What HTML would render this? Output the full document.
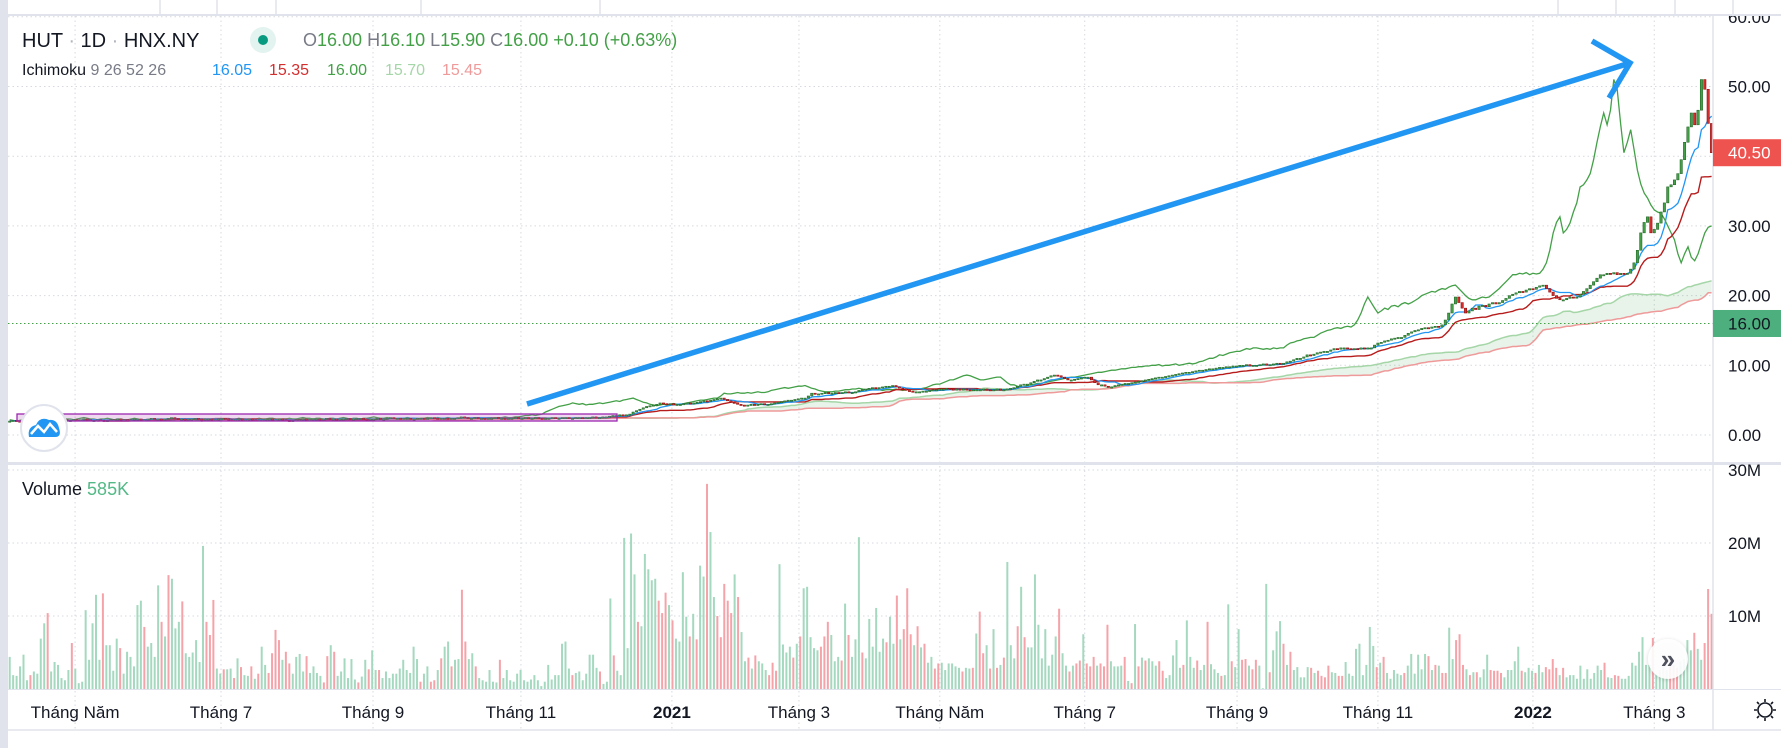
<!DOCTYPE html>
<html><head><meta charset="utf-8">
<style>
html,body{margin:0;padding:0;background:#fff;}
body{width:1781px;height:748px;overflow:hidden;font-family:"Liberation Sans",sans-serif;}
svg text{font-family:"Liberation Sans",sans-serif;}
</style></head>
<body>
<svg id="chart" width="1781" height="748" viewBox="0 0 1781 748" xmlns="http://www.w3.org/2000/svg">
  <defs>
    <clipPath id="pclip"><rect x="8" y="16" width="1705" height="447"/></clipPath>
    <clipPath id="vclip"><rect x="8" y="465" width="1705" height="225"/></clipPath>
    <clipPath id="aclip"><rect x="1713" y="16" width="68" height="714"/></clipPath>
    <filter id="sh" x="-50%" y="-50%" width="200%" height="200%"><feDropShadow dx="0" dy="1" stdDeviation="2" flood-color="#000" flood-opacity="0.18"/></filter>
  </defs>
  <rect x="0" y="0" width="1781" height="748" fill="#fff"/>
  <rect x="0" y="0" width="8" height="748" fill="#e0e3eb"/>
  <g id="toolbar"></g>
  <g id="grid"></g>
  <g id="price" clip-path="url(#pclip)"></g>
  <g id="vol" clip-path="url(#vclip)"></g>
  <g id="axes"></g>
  <g id="overlay"></g>
</svg>
<script>
// ---------- DATA ----------
const closes = [
2.0,2.1,2.0,1.9,2.0,2.1,2.1,2.0,2.0,2.1,2.2,2.1,2.1,2.0,2.1,2.2,2.2,2.1,2.1,2.2,
2.1,2.2,2.3,2.2,2.1,2.1,2.2,2.1,2.0,2.1,2.2,2.2,2.3,2.2,2.2,2.1,2.2,2.3,2.3,2.2,
2.2,2.3,2.4,2.3,2.3,2.2,2.3,2.4,2.5,2.4,2.3,2.3,2.2,2.3,2.3,2.4,2.3,2.2,2.3,2.3,
2.2,2.2,2.3,2.4,2.3,2.2,2.1,2.2,2.3,2.2,2.2,2.3,2.2,2.1,2.2,2.2,2.3,2.3,2.2,2.2,
2.3,2.2,2.1,2.0,2.1,2.2,2.2,2.3,2.2,2.2,2.3,2.3,2.2,2.3,2.4,2.3,2.3,2.2,2.3,2.3,
2.4,2.3,2.3,2.4,2.4,2.3,2.2,2.3,2.3,2.4,2.3,2.3,2.4,2.5,2.4,2.4,2.3,2.4,2.4,2.3,
2.3,2.4,2.4,2.3,2.4,2.5,2.4,2.3,2.4,2.4,2.3,2.4,2.4,2.5,2.6,2.5,2.4,2.4,2.5,2.4,
2.4,2.3,2.4,2.4,2.5,2.4,2.4,2.3,2.4,2.4,2.5,2.4,2.4,2.5,2.4,2.4,2.5,2.4,2.3,2.4,
2.4,2.5,2.4,2.4,2.5,2.5,2.4,2.4,2.5,2.5,2.4,2.5,2.5,2.6,2.5,2.5,2.6,2.6,2.7,2.8,
2.8,2.9,2.8,2.9,3.0,3.3,3.5,3.7,3.9,4.1,4.2,4.3,4.4,4.6,4.5,4.4,4.5,4.3,4.4,4.4,
4.5,4.6,4.5,4.6,4.7,4.8,4.9,4.8,5.0,5.1,5.2,5.3,5.1,4.9,4.7,4.6,4.4,4.3,4.2,4.3,
4.4,4.3,4.4,4.5,4.4,4.4,4.5,4.6,4.7,4.8,4.9,5.0,5.0,5.1,5.2,5.3,5.3,5.6,6.0,5.9,
5.9,6.0,6.1,6.0,6.0,6.1,6.0,6.1,6.2,6.1,6.1,6.2,6.4,6.5,6.6,6.7,6.8,6.7,6.8,6.9,
7.0,7.0,7.1,6.9,6.7,6.6,6.4,6.3,6.2,6.2,6.2,6.3,6.3,6.4,6.5,6.5,6.6,6.6,6.7,6.6,
6.5,6.6,6.5,6.6,6.5,6.4,6.5,6.5,6.5,6.6,6.5,6.4,6.5,6.6,6.5,6.5,6.6,6.7,6.8,7.0,
7.2,7.3,7.3,7.5,7.7,7.9,7.9,8.1,8.3,8.5,8.6,8.5,8.3,8.1,7.9,7.9,8.0,8.1,8.2,8.3,
8.3,7.9,7.5,7.2,7.2,7.0,6.9,6.9,7.1,7.2,7.3,7.4,7.4,7.5,7.6,7.7,7.8,7.9,8.0,8.1,
8.2,8.3,8.3,8.4,8.5,8.6,8.7,8.8,8.9,9.0,9.0,9.1,9.2,9.3,9.3,9.4,9.5,9.5,9.6,9.7,
9.7,9.8,9.8,9.9,9.9,10.0,10.0,10.1,9.9,10.0,10.0,10.1,10.2,10.0,10.1,10.2,10.3,10.2,10.3,10.5,
10.6,10.8,11.0,11.0,11.2,11.5,11.4,11.6,11.8,11.9,12.0,12.0,12.2,12.4,12.3,12.5,12.5,12.4,12.3,12.4,
12.3,12.5,12.4,12.5,12.5,12.9,13.2,13.3,13.5,13.6,13.8,13.9,14.0,14.0,14.3,14.6,14.8,15.0,15.1,15.3,
15.4,15.3,15.5,15.6,15.5,15.8,16.5,17.5,18.8,19.8,19.0,18.2,17.5,17.8,18.2,18.0,18.5,18.6,18.4,18.8,
19.0,18.8,19.0,19.3,19.6,20.0,20.2,20.4,20.6,20.5,20.8,21.0,20.9,21.2,21.4,21.5,21.0,20.5,20.0,19.6,
19.4,19.4,19.6,19.8,19.7,19.8,20.2,20.6,21.0,21.5,22.0,22.5,23.0,23.0,23.2,23.1,23.3,23.0,23.2,23.1,
23.2,23.8,24.7,26.5,29.0,30.5,31.3,29.0,29.5,30.4,32.0,33.3,35.6,35.9,36.6,37.5,39.5,42.0,44.2,46.2,
44.5,46.6,51.0,49.6,44.7,40.5,
42.0,43.8,41.0,38.0,36.0,34.7,34.0,33.0,32.3,32.0,31.8,31.0,30.0,29.0,28.0,26.0,24.7,26.0,27.0,25.5,
25.0,26.0,27.5,29.0,29.8,30.0
];
const visibleBars = 506;
const volumes = [
4.4,1.9,1.8,3.1,4.7,1.2,1.9,2.4,2.1,6.9,9.0,10.4,2.4,3.7,3.3,1.5,1.2,2.6,6.3,2.8,
0.8,1.0,10.8,4.0,9.0,12.9,4.0,13.1,6.0,6.0,2.5,6.9,5.6,2.1,5.1,4.4,3.1,11.5,12.1,8.5,
5.8,6.3,4.4,14.2,9.2,7.2,15.6,15.1,8.3,9.2,12.0,4.9,4.4,5.0,6.7,3.7,19.6,9.2,7.4,12.2,
2.8,2.1,2.7,2.7,2.8,1.5,4.2,3.0,1.9,1.8,3.1,1.4,2.1,5.8,3.3,2.2,4.9,8.1,6.7,4.0,
5.1,3.5,2.1,4.4,4.8,2.4,4.5,2.2,3.1,2.2,1.8,0.9,4.5,6.0,5.1,1.8,2.4,4.2,1.5,4.1,
1.3,0.9,1.7,4.0,2.7,5.3,2.6,2.6,1.5,2.4,1.5,2.1,2.1,2.8,4.0,2.6,2.2,5.8,4.1,1.0,
2.1,3.1,1.0,1.2,2.6,4.2,5.8,6.5,3.1,4.0,4.1,13.6,6.5,4.1,4.9,3.1,1.5,1.2,1.0,2.6,
1.0,0.9,4.0,1.5,2.6,1.2,1.0,2.1,2.6,1.2,1.0,1.3,1.9,1.2,0.4,1.0,3.3,1.3,1.9,
1.9,6.2,6.5,2.8,1.9,2.2,2.4,1.2,2.1,4.7,4.7,2.9,2.4,0.7,1.0,12.4,4.6,2.5,1.9,20.7,
5.6,21.3,15.7,9.2,8.6,18.5,16.4,14.9,15.1,12.1,10.4,13.2,11.5,9.4,6.9,6.5,16.0,9.9,7.2,10.3,
6.8,16.9,15.4,28.1,21.5,12.6,10.0,7.1,14.4,12.1,10.4,15.7,12.6,7.8,3.8,4.3,2.8,4.6,3.8,3.5,
2.6,1.9,3.6,2.5,17.1,6.1,5.0,5.8,4.3,6.2,7.2,13.8,14.0,7.1,5.6,5.3,5.8,7.2,9.2,7.4,
3.8,4.4,3.9,11.7,7.4,4.4,6.8,20.8,5.0,4.2,9.6,5.8,11.1,5.1,6.9,6.4,9.9,6.2,12.8,6.8,
8.2,13.8,7.5,6.0,8.6,5.7,6.2,3.6,4.4,2.8,3.5,3.6,2.6,3.5,3.5,3.1,2.9,2.4,2.9,2.8,
2.9,7.6,10.6,4.9,6.0,2.8,8.2,2.9,3.3,4.3,17.4,6.0,4.2,8.6,14.0,7.1,5.7,5.7,15.7,8.8,
4.2,8.2,3.2,4.7,7.2,11.0,4.9,3.2,2.4,3.2,3.5,3.9,7.5,3.5,3.1,4.4,3.2,3.5,3.1,8.8,
3.8,3.1,3.1,3.2,4.4,1.1,0.8,8.9,3.1,4.3,3.9,4.2,3.8,3.2,3.8,2.5,1.5,1.9,4.6,6.7,
2.9,3.3,9.4,4.4,2.9,3.9,
2.6,3.3,9.2,3.4,2.7,2.2,1.8,1.9,11.6,3.8,3.0,8.2,4.0,4.1,3.2,2.7,4.0,3.2,0.1,14.4,
2.3,5.3,7.9,9.3,6.2,3.3,5.1,2.6,3.0,1.6,1.6,3.0,2.9,2.2,2.5,1.8,1.6,3.2,2.3,2.2,
1.8,1.8,3.7,2.1,1.8,5.5,6.2,1.9,3.3,8.5,5.9,3.0,3.6,4.4,2.2,1.4,2.6,2.1,1.9,2.2,
3.2,4.8,2.1,4.7,2.7,4.8,4.5,2.6,3.3,3.2,2.2,2.2,8.4,4.1,6.7,7.5,3.3,2.7,1.9,2.3,
2.3,1.6,2.7,4.7,2.6,2.5,2.5,2.2,1.6,2.6,2.6,3.8,5.8,2.5,2.3,2.9,2.5,2.2,3.3,2.3,
3.0,2.7,4.1,2.9,1.9,2.9,1.6,1.9,1.9,1.4,3.2,1.4,2.7,1.4,2.2,3.2,2.6,3.6,1.6,1.5,
1.9,1.8,1.4,1.4,1.8,3.6,3.2,5.1,7.1,3.3,3.3,7.0,2.1,2.6,3.2,2.6,4.0,3.3,2.9,3.8,
4.1,6.7,5.3,7.7,5.5,4.0,6.3,13.7,10.3
];
const volumeDirs =
"ggggggrggg"+"grggggggrg"+"gggggggrgg"+"ggrggggggr"+"ggggrgrggg"+"rggggggrrr"+"ggrggrgrgg"+"rgrggrrrrg"+
"rrggggrggg"+"grrgrggggg"+"grggrggrgg"+"gggggggggr"+"ggrrgrggrg"+"grrggrgggg"+"ggrggggggg"+"ggggggggg"+
"ggggrggggg"+"ggrgggrggg"+"gggrgggggr"+"rrgrggggrg"+"rggrggrrrr"+"rgrggrgrgg"+"grrrggggrg"+"rgggggrrrg"+
"ggrgrgggrg"+"gggggrggrg"+"rrrgrgrggr"+"rggggggrgg"+"rgrrgrgrgr"+"gggrgrgggg"+"gggggrggrg"+"rrgrrrgrrr"+
"ggggrgrgrg"+"rgggrrgggg"+"grgggr"+
"ggrgggrggr"+"ggrrgrrggg"+"rgggrgrggg"+"ggrgrrrrgg"+"rrgggggggg"+"grgrgggggr"+"ggggggrgrg"+"rrggrrrgrg"+
"rgggrrrrgg"+"gggrgggrgg"+"rrrrgrgggg"+"gggggggrgg"+"rrgggggggg"+"grggggrrrg"+"gggrggrrr";
const priceTicks = [0,10,20,30,40,50,60];
const priceTickLabels = ["0.00","10.00","20.00","30.00","40.00","50.00","60.00"];
const volumeTicks = [10,20,30];
const volumeTickLabels = ["10M","20M","30M"];
const timeTickBars = [19.4,62.7,107.8,151.7,196.5,234.2,276,319,364.2,406,452,488];
const timeTickLabels = ["Tháng Năm","Tháng 7","Tháng 9","Tháng 11","2021","Tháng 3","Tháng Năm","Tháng 7","Tháng 9","Tháng 11","2022","Tháng 3"];
const lastPrice = 40.5;
const crosshairPrice = 16.0;

// ---------- SCALES ----------
const NS="http://www.w3.org/2000/svg";
const X0=9.7, BAR=3.37;
function xBar(i){return X0+BAR*i;}
function yPrice(p){return 435-p*6.97;}
function yVol(m){return 689-m*7.3;}
const volStep=(xBar(visibleBars-1)-X0)/(volumes.length-1);
function xVol(j){return X0+volStep*j;}
function mk(tag,attrs,parent){const e=document.createElementNS(NS,tag);for(const k in attrs)e.setAttribute(k,attrs[k]);parent.appendChild(e);return e;}
const G=id=>document.getElementById(id);

// ---------- TOOLBAR ----------
const tb=G('toolbar');
[160,217,276,421,600,1558,1616,1675,1733].forEach(x=>{const l=mk('line',{x1:x,y1:0,x2:x,y2:14,stroke:'#e0e3eb','stroke-width':1.5},tb);

});
mk('rect',{x:8,y:14,width:1773,height:2,fill:'#e0e3eb'},tb);

// ---------- GRID ----------
const grid=G('grid');
priceTicks.forEach(p=>{const l=mk('line',{x1:8,x2:1713,y1:yPrice(p),y2:yPrice(p),stroke:'#d6d9e0','stroke-dasharray':'1.5 3'},grid);

});
volumeTicks.forEach(v=>{const l=mk('line',{x1:8,x2:1713,y1:yVol(v),y2:yVol(v),stroke:'#d6d9e0','stroke-dasharray':'1.5 3'},grid);

});
timeTickBars.forEach(b=>{const x=xBar(b);const l=mk('line',{x1:x,x2:x,y1:16,y2:730,stroke:'#d6d9e0','stroke-dasharray':'1.5 3'},grid);

});

// ---------- ICHIMOKU ----------
function midRange(arr,i,n){let hi=-1e9,lo=1e9;for(let k=Math.max(0,i-n+1);k<=i;k++){hi=Math.max(hi,arr[k]);lo=Math.min(lo,arr[k]);}return (hi+lo)/2;}
const N=closes.length;
const tenkan=[],kijun=[],spanA=[],spanB=[];
for(let i=0;i<N;i++){tenkan.push(midRange(closes,i,9));kijun.push(midRange(closes,i,26));}
for(let i=0;i<N;i++){spanA.push((tenkan[i]+kijun[i])/2);spanB.push(midRange(closes,i,52));}

const price=G('price');
function pathFrom(pts){return pts.map((p,k)=>(k?'L':'M')+p[0].toFixed(1)+' '+p[1].toFixed(1)).join(' ');}
// cloud (shifted +26)
const aPts=[],bPts=[];
for(let i=0;i<visibleBars-26;i++){aPts.push([xBar(i+26),yPrice(spanA[i])]);bPts.push([xBar(i+26),yPrice(spanB[i])]);}
const cloud=mk('path',{d:pathFrom(aPts)+' '+pathFrom(bPts.slice().reverse()).replace('M','L')+' Z',fill:'rgba(67,160,71,0.12)',stroke:'none'},price);


const la=mk('path',{d:pathFrom(aPts),fill:'none',stroke:'#a5d6a7','stroke-width':1.5},price);


const lb=mk('path',{d:pathFrom(bPts),fill:'none',stroke:'#ef9a9a','stroke-width':1.5},price);


// lagging span (shifted -26)
const cPts=[];for(let i=26;i<N;i++){cPts.push([xBar(i-26),yPrice(closes[i])]);}
const lc=mk('path',{d:pathFrom(cPts),fill:'none',stroke:'#43a047','stroke-width':1.3},price);


const kPts=[],tPts=[];for(let i=0;i<visibleBars;i++){kPts.push([xBar(i),yPrice(kijun[i])]);tPts.push([xBar(i),yPrice(tenkan[i])]);}
const lk=mk('path',{d:pathFrom(kPts),fill:'none',stroke:'#b71c1c','stroke-width':1.4},price);


const lt=mk('path',{d:pathFrom(tPts),fill:'none',stroke:'#2196f3','stroke-width':1.3},price);


// candles
for(let i=0;i<visibleBars;i++){
  const o=i?closes[i-1]:closes[i], c=closes[i];
  const up=c>=o;
  const y1=yPrice(Math.max(o,c)), y2=yPrice(Math.min(o,c));
  const r=mk('rect',{x:xBar(i)-1.2,y:y1,width:2.4,height:Math.max(1.2,y2-y1),fill:up?'#43a047':'#d32f2f',stroke:up?'#1b5e20':'#8e0000','stroke-width':0.5},price);
  
  
}
// crosshair price line
const pl=mk('line',{x1:8,x2:1713,y1:yPrice(crosshairPrice),y2:yPrice(crosshairPrice),stroke:'#43a047','stroke-dasharray':'1.5 2.5','stroke-width':1},price);


// drawing rectangle
const box=mk('rect',{x:17,y:414,width:600,height:7,fill:'rgba(186,104,200,0.25)',stroke:'#9c27b0','stroke-width':1.3},price);


// arrow drawing
const arr=mk('path',{d:'M527 404 L1630 63 M1592 41 L1630 63 L1609 98',fill:'none',stroke:'#2196f3','stroke-width':5.5,'stroke-linejoin':'miter'},price);



// ---------- VOLUME ----------
const vol=G('vol');
volumes.forEach((v,j)=>{
  const up=volumeDirs[j]!=='r';
  const y=yVol(v);
  const r=mk('rect',{x:xVol(j)-1,y:y,width:2,height:689-y,fill:up?'#a5d9bf':'#f5a3a9'},vol);
  
  
});

// ---------- AXES ----------
const ax=G('axes');
mk('rect',{x:8,y:462,width:1773,height:3,fill:'#e0e3eb'},ax);
mk('line',{x1:1713,x2:1713,y1:16,y2:730,stroke:'#e0e3eb','stroke-width':1.5},ax);
mk('line',{x1:8,x2:1781,y1:689.5,y2:689.5,stroke:'#e0e3eb','stroke-width':1},ax);
mk('line',{x1:8,x2:1781,y1:730,y2:730,stroke:'#e0e3eb','stroke-width':1.5},ax);
const axg=mk('g',{'clip-path':'url(#aclip)'},ax);
priceTicks.forEach((p,k)=>{const t=mk('text',{x:1728,y:yPrice(p)+6,'font-size':17,fill:'#131722'},axg);t.textContent=priceTickLabels[k];

});
volumeTicks.forEach((v,k)=>{const t=mk('text',{x:1728,y:yVol(v)+6,'font-size':17,fill:'#131722'},axg);t.textContent=volumeTickLabels[k];

});
timeTickBars.forEach((b,k)=>{const lab=timeTickLabels[k];const bold=/^\d{4}$/.test(lab);
const t=mk('text',{x:xBar(b),y:718,'font-size':17,'text-anchor':'middle',fill:'#131722','font-weight':bold?'bold':'normal'},ax);t.textContent=lab;

});
// price tags
const tagR=mk('rect',{x:1713,y:yPrice(lastPrice)-13.5,width:68,height:27,fill:'#ef5350'},ax);


const tagRt=mk('text',{x:1728,y:yPrice(lastPrice)+6,'font-size':17,fill:'#fff'},ax);tagRt.textContent=lastPrice.toFixed(2);
const tagG=mk('rect',{x:1713,y:yPrice(crosshairPrice)-13.5,width:68,height:27,fill:'#4caf7d'},ax);


const tagGt=mk('text',{x:1728,y:yPrice(crosshairPrice)+6,'font-size':17,fill:'#131722'},ax);tagGt.textContent=crosshairPrice.toFixed(2);
</script>
<!-- overlays (static HTML-like SVG) -->
<svg width="1781" height="748" style="position:absolute;left:0;top:0;pointer-events:none" xmlns="http://www.w3.org/2000/svg">
  <g font-family="Liberation Sans, sans-serif">
    <text x="22" y="47" font-size="20" fill="#131722">HUT <tspan fill="#b2b5be">·</tspan> 1D <tspan fill="#b2b5be">·</tspan> HNX.NY</text>
    <circle cx="263" cy="40" r="13" fill="#e3f3ef"/>
    <circle cx="263" cy="40" r="5" fill="#089981"/>
    <text x="303" y="46" font-size="18" fill="#43a047"><tspan fill="#787b86">O</tspan>16.00 <tspan fill="#787b86">H</tspan>16.10 <tspan fill="#787b86">L</tspan>15.90 <tspan fill="#787b86">C</tspan>16.00 +0.10 (+0.63%)</text>
    <text x="22" y="75" font-size="16" fill="#131722">Ichimoku <tspan fill="#787b86">9 26 52 26</tspan>  <tspan fill="#2196f3" x="212">16.05</tspan><tspan fill="#d32f2f" x="269">15.35</tspan><tspan fill="#43a047" x="327">16.00</tspan><tspan fill="#a5d6a7" x="385">15.70</tspan><tspan fill="#ef9a9a" x="442">15.45</tspan></text>
    <text x="22" y="495" font-size="18" fill="#131722">Volume <tspan fill="#53b987">585K</tspan></text>
  </g>
  <g>
    <circle cx="44" cy="428" r="23" fill="#fff" stroke="#e0e3eb" stroke-width="2"/>
    <path d="M29 437 Q27 427 36 425 Q40 416 49 420 Q57 419 59 428 Q62 437 55 437 Z" fill="#2196f3"/>
    <path d="M31 434 L38 426 L44 432 L50 424 L57 432" fill="none" stroke="#fff" stroke-width="2.5"/>
  </g>
  <g>
    <circle cx="1668" cy="659" r="20" fill="#fff" fill-opacity="0.9" filter="url(#sh)"/>
    <text x="1668" y="668" font-size="26" font-weight="bold" text-anchor="middle" fill="#50535e" font-family="Liberation Sans, sans-serif">»</text>
  </g>
  <g stroke="#131722" stroke-width="1.6" fill="none">
    <circle cx="1765" cy="710" r="7"/>
    <path d="M1765 699 V702 M1765 718 V721 M1754 710 H1757 M1773 710 H1776 M1757 702 L1759 704 M1771 716 L1773 718 M1757 718 L1759 716 M1771 704 L1773 702"/>
  </g>
</svg>
</body></html>
